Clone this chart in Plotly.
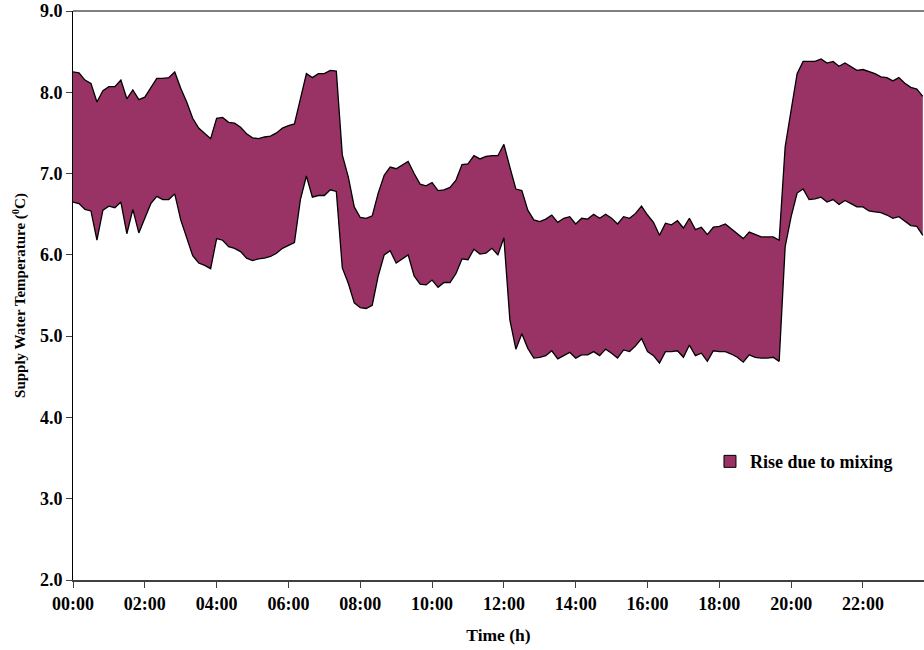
import plotly.graph_objects as go

# Supply water temperature, sampled every 10 minutes (hours since midnight)
step_minutes = 10
n_samples = 143
hours = [i * step_minutes / 60 for i in range(n_samples)]

# Upper envelope: temperature after mixing (deg C)
upper_temp = [
    8.25, 8.24, 8.15, 8.11, 7.88, 8.02, 8.07, 8.07, 8.15, 7.92,
    8.03, 7.91, 7.94, 8.06, 8.17, 8.17, 8.18, 8.25, 8.05, 7.88,
    7.68, 7.56, 7.50, 7.43, 7.68, 7.69, 7.63, 7.62, 7.57, 7.49,
    7.44, 7.43, 7.45, 7.46, 7.50, 7.56, 7.59, 7.61, 7.92, 8.23,
    8.18, 8.23, 8.23, 8.27, 8.26, 7.23, 6.96, 6.59, 6.46, 6.45,
    6.48, 6.76, 6.98, 7.08, 7.06, 7.11, 7.15, 7.00, 6.87, 6.85,
    6.89, 6.79, 6.80, 6.83, 6.92, 7.11, 7.12, 7.22, 7.18, 7.21,
    7.22, 7.22, 7.36, 7.08, 6.81, 6.79, 6.55, 6.43, 6.41, 6.44,
    6.49, 6.40, 6.45, 6.47, 6.38, 6.45, 6.44, 6.50, 6.45, 6.50,
    6.45, 6.38, 6.47, 6.45, 6.51, 6.60, 6.49, 6.40, 6.24, 6.39,
    6.37, 6.42, 6.33, 6.45, 6.31, 6.34, 6.25, 6.34, 6.35, 6.38,
    6.32, 6.27, 6.20, 6.28, 6.25, 6.22, 6.22, 6.22, 6.18, 7.33,
    7.78, 8.23, 8.38, 8.38, 8.38, 8.41, 8.36, 8.38, 8.32, 8.36,
    8.31, 8.27, 8.28, 8.25, 8.23, 8.19, 8.18, 8.14, 8.18, 8.11,
    8.06, 8.04, 7.95,
]

# Lower envelope: temperature before mixing (deg C)
lower_temp = [
    6.65, 6.63, 6.56, 6.54, 6.18, 6.55, 6.60, 6.58, 6.65, 6.26,
    6.56, 6.27, 6.45, 6.63, 6.72, 6.68, 6.68, 6.75, 6.43, 6.22,
    5.99, 5.90, 5.87, 5.83, 6.20, 6.18, 6.10, 6.08, 6.04, 5.96,
    5.93, 5.95, 5.96, 5.98, 6.02, 6.08, 6.12, 6.15, 6.68, 6.97,
    6.71, 6.73, 6.73, 6.80, 6.78, 5.84, 5.65, 5.41, 5.35, 5.34,
    5.38, 5.74, 6.00, 6.05, 5.90, 5.95, 6.00, 5.74, 5.64, 5.63,
    5.69, 5.60, 5.66, 5.66, 5.77, 5.95, 5.94, 6.07, 6.01, 6.02,
    6.08, 6.00, 6.21, 5.20, 4.84, 5.03, 4.85, 4.73, 4.74, 4.76,
    4.82, 4.72, 4.76, 4.80, 4.73, 4.77, 4.77, 4.81, 4.76, 4.84,
    4.79, 4.73, 4.83, 4.81, 4.88, 4.97, 4.81, 4.76, 4.67, 4.81,
    4.81, 4.82, 4.74, 4.89, 4.76, 4.79, 4.69, 4.82, 4.81, 4.81,
    4.78, 4.74, 4.68, 4.77, 4.74, 4.73, 4.73, 4.74, 4.69, 6.10,
    6.47, 6.76, 6.81, 6.68, 6.69, 6.71, 6.65, 6.68, 6.62, 6.67,
    6.63, 6.59, 6.59, 6.54, 6.53, 6.52, 6.49, 6.45, 6.47, 6.41,
    6.36, 6.35, 6.24,
]

tick_hours = [0, 2, 4, 6, 8, 10, 12, 14, 16, 18, 20, 22]
tick_labels = ["00:00", "02:00", "04:00", "06:00", "08:00", "10:00",
               "12:00", "14:00", "16:00", "18:00", "20:00", "22:00"]
y_ticks = [2.0, 3.0, 4.0, 5.0, 6.0, 7.0, 8.0, 9.0]
y_labels = ["2.0", "3.0", "4.0", "5.0", "6.0", "7.0", "8.0", "9.0"]

series_name = "Rise due to mixing"
fill_color = "#993366"
font_family = "Liberation Serif, Times New Roman, serif"

fig = go.Figure()
fig.add_trace(go.Scatter(
    x=hours, y=lower_temp, mode="lines",
    line=dict(color="black", width=1.3),
    showlegend=False, hoverinfo="skip",
))
fig.add_trace(go.Scatter(
    x=hours, y=upper_temp, mode="lines", fill="tonexty",
    fillcolor=fill_color, line=dict(color="black", width=1.3),
    name=series_name, showlegend=False,
))
# Square swatch for the legend entry
fig.add_trace(go.Scatter(
    x=[None], y=[None], mode="markers", name=series_name,
    marker=dict(symbol="square", size=12, color=fill_color,
                line=dict(color="black", width=1)),
    showlegend=True,
))

fig.update_layout(
    width=924, height=650,
    margin=dict(l=73, r=0, t=11, b=70),
    plot_bgcolor="white", paper_bgcolor="white",
    font=dict(family=font_family, size=18, color="black"),
    showlegend=True,
    legend=dict(
        x=0.7485, y=0.208, xanchor="left", yanchor="middle",
        bgcolor="rgba(0,0,0,0)", borderwidth=0,
        font=dict(family=font_family, size=18, color="black", weight="bold"),
    ),
    shapes=[dict(type="line", xref="paper", yref="paper",
                 x0=0, x1=1, y0=1, y1=1,
                 line=dict(color="black", width=1))],
)

fig.update_xaxes(
    range=[0, 23.7],
    tickmode="array", tickvals=tick_hours, ticktext=tick_labels,
    ticks="outside", ticklen=6, tickcolor="#404040", tickwidth=1,
    showline=True, linecolor="#404040", linewidth=2,
    showgrid=False, zeroline=False,
    tickfont=dict(family=font_family, size=18, weight="bold"),
    title=dict(text="<b>Time (h)</b>", standoff=16,
               font=dict(family=font_family, size=17.5)),
)
fig.update_yaxes(
    range=[2.0, 9.0],
    tickmode="array", tickvals=y_ticks, ticktext=y_labels,
    ticks="outside", ticklen=6, tickcolor="#404040", tickwidth=1,
    showline=True, linecolor="black", linewidth=1,
    showgrid=False, zeroline=False,
    tickfont=dict(family=font_family, size=18, weight="bold"),
    title=dict(text="<b>Supply Water Temperature (<sup>0</sup>C)</b>",
               standoff=10, font=dict(family=font_family, size=15)),
)

fig.write_html("out.html")
